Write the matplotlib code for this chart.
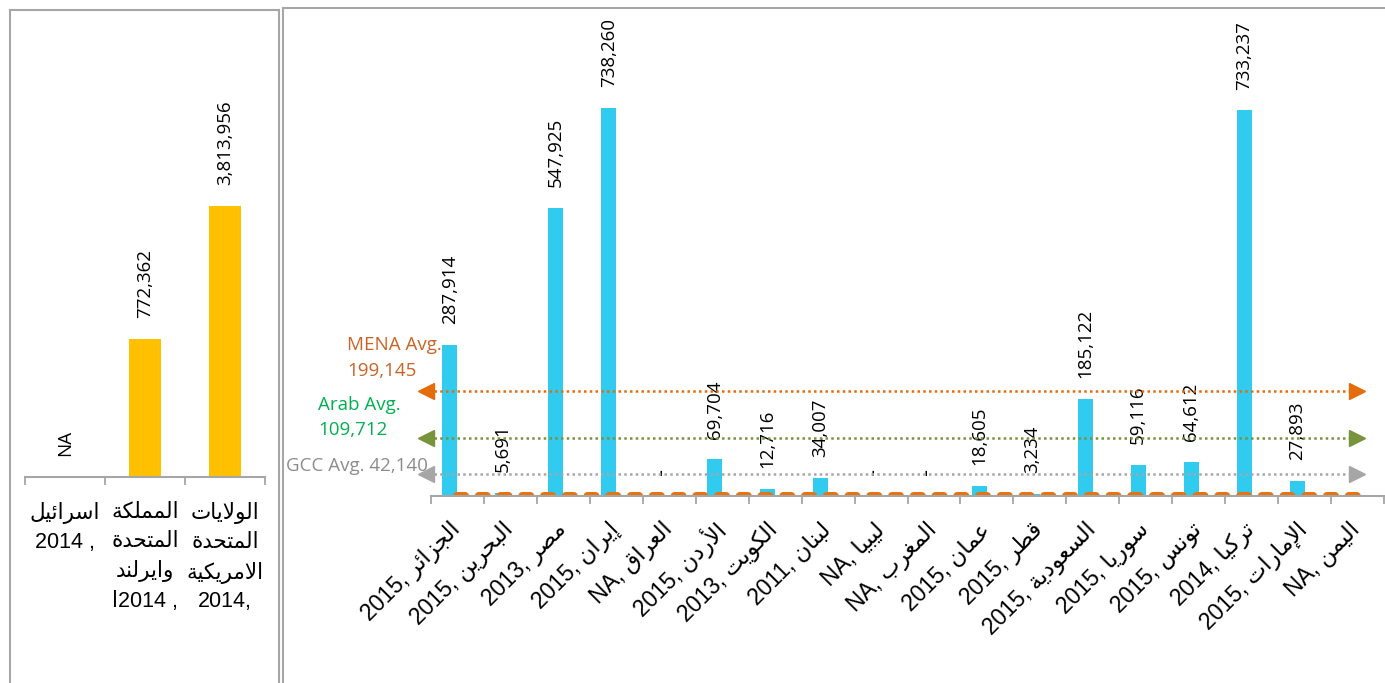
import matplotlib
matplotlib.use("Agg")
import matplotlib.pyplot as plt
from matplotlib.lines import Line2D

# ---------------- data ----------------
ref_names = ["اسرائيل", "المملكة المتحدة وايرلندا", "الولايات المتحدة الامريكية"]
ref_label_lines = [["اسرائيل"],
                   ["المملكة", "المتحدة", "وايرلند"],
                   ["الولايات", "المتحدة", "الامريكية"]]
ref_year_lines = ["2014 ,", "ا2014 ,", "2014,"]
ref_values = [None, 772362, 3813956]

mena_names = ["الجزائر", "البحرين", "مصر", "إيران", "العراق", "الأردن",
              "الكويت", "لبنان", "ليبيا", "المغرب", "عمان", "قطر",
              "السعودية", "سوريا", "تونس", "تركيا", "الإمارات", "اليمن"]
mena_years = ["2015", "2015", "2013", "2015", "NA", "2015",
              "2013", "2011", "NA", "NA", "2015", "2015",
              "2015", "2015", "2015", "2014", "2015", "NA"]
mena_values = [287914, 5691, 547925, 738260, None, 69704,
               12716, 34007, None, None, 18605, 3234,
               185122, 59116, 64612, 733237, 27893, None]
mena_second = [0, 0, 0, 0, 0, 0, 0, 0, 0, 0, 0, 0, 0, 0, 0, 0, 0, 0]

avg_titles = ["MENA Avg.", "Arab Avg.", "GCC Avg."]
avg_values = [199145, 109712, 42140]

# ---------------- Arabic shaping (presentation forms + RTL order) ----------------
ARABIC_FORMS = {
    'ء': ('\uFE80', None, None, None),
    'آ': ('\uFE81', '\uFE82', None, None),
    'أ': ('\uFE83', '\uFE84', None, None),
    'ؤ': ('\uFE85', '\uFE86', None, None),
    'إ': ('\uFE87', '\uFE88', None, None),
    'ئ': ('\uFE89', '\uFE8A', '\uFE8B', '\uFE8C'),
    'ا': ('\uFE8D', '\uFE8E', None, None),
    'ب': ('\uFE8F', '\uFE90', '\uFE91', '\uFE92'),
    'ة': ('\uFE93', '\uFE94', None, None),
    'ت': ('\uFE95', '\uFE96', '\uFE97', '\uFE98'),
    'ث': ('\uFE99', '\uFE9A', '\uFE9B', '\uFE9C'),
    'ج': ('\uFE9D', '\uFE9E', '\uFE9F', '\uFEA0'),
    'ح': ('\uFEA1', '\uFEA2', '\uFEA3', '\uFEA4'),
    'خ': ('\uFEA5', '\uFEA6', '\uFEA7', '\uFEA8'),
    'د': ('\uFEA9', '\uFEAA', None, None),
    'ذ': ('\uFEAB', '\uFEAC', None, None),
    'ر': ('\uFEAD', '\uFEAE', None, None),
    'ز': ('\uFEAF', '\uFEB0', None, None),
    'س': ('\uFEB1', '\uFEB2', '\uFEB3', '\uFEB4'),
    'ش': ('\uFEB5', '\uFEB6', '\uFEB7', '\uFEB8'),
    'ص': ('\uFEB9', '\uFEBA', '\uFEBB', '\uFEBC'),
    'ض': ('\uFEBD', '\uFEBE', '\uFEBF', '\uFEC0'),
    'ط': ('\uFEC1', '\uFEC2', '\uFEC3', '\uFEC4'),
    'ظ': ('\uFEC5', '\uFEC6', '\uFEC7', '\uFEC8'),
    'ع': ('\uFEC9', '\uFECA', '\uFECB', '\uFECC'),
    'غ': ('\uFECD', '\uFECE', '\uFECF', '\uFED0'),
    'ف': ('\uFED1', '\uFED2', '\uFED3', '\uFED4'),
    'ق': ('\uFED5', '\uFED6', '\uFED7', '\uFED8'),
    'ك': ('\uFED9', '\uFEDA', '\uFEDB', '\uFEDC'),
    'ل': ('\uFEDD', '\uFEDE', '\uFEDF', '\uFEE0'),
    'م': ('\uFEE1', '\uFEE2', '\uFEE3', '\uFEE4'),
    'ن': ('\uFEE5', '\uFEE6', '\uFEE7', '\uFEE8'),
    'ه': ('\uFEE9', '\uFEEA', '\uFEEB', '\uFEEC'),
    'و': ('\uFEED', '\uFEEE', None, None),
    'ى': ('\uFEEF', '\uFEF0', None, None),
    'ي': ('\uFEF1', '\uFEF2', '\uFEF3', '\uFEF4'),
}
LAM_ALEF = {'آ': ('\uFEF5', '\uFEF6'), 'أ': ('\uFEF7', '\uFEF8'),
            'إ': ('\uFEF9', '\uFEFA'), 'ا': ('\uFEFB', '\uFEFC')}


def rtl(text):
    """Shape Arabic letters into joined forms and return them in visual order."""
    items = []
    i = 0
    while i < len(text):
        c = text[i]
        if c == 'ل' and i + 1 < len(text) and text[i + 1] in LAM_ALEF:
            iso, fin = LAM_ALEF[text[i + 1]]
            items.append((iso, fin, None, None))
            i += 2
            continue
        items.append(ARABIC_FORMS.get(c, c))
        i += 1
    out = []
    for k, it in enumerate(items):
        if isinstance(it, str):
            out.append(it)
            continue
        prev = items[k - 1] if k > 0 else None
        nxt = items[k + 1] if k + 1 < len(items) else None
        jp = isinstance(prev, tuple) and prev[2] is not None and it[1] is not None
        jn = isinstance(nxt, tuple) and it[2] is not None and nxt[1] is not None
        if jp and jn:
            g = it[3]
        elif jp:
            g = it[1]
        elif jn:
            g = it[2]
        else:
            g = it[0]
        out.append(g)
    return ''.join(reversed(out))


# ---------------- styling ----------------
plt.rcParams['font.family'] = ['Liberation Sans', 'DejaVu Sans']
W, H = 1385, 683
BLUE = '#31CBF0'
GOLD = '#FFC000'
ORANGE = '#E8730E'
FRAME = '#A6A6A6'
AXIS_GREY = '#A6A6A6'
LABEL_FONT = 'Open Sans'
VALUE_SIZE = 13.5
TICK_SIZE = 16.5
LEFT_TICK_SIZE = 15.5
avg_line_colors = ['#E46C0A', '#77933C', '#A6A6A6']
avg_text_colors = ['#CD6322', '#00B050', '#8C8C8C']

fig = plt.figure(figsize=(W / 100, H / 100), dpi=100)


def fx(px):
    return px / W


def fy(py):
    return 1 - py / H


# panel frames
for xs, ys in [([10, 10], [H + 5, 10]), ([10, 279], [10, 10]), ([279, 279], [10, H + 5]),
               ([283, 283], [H + 5, 8]), ([283, W + 5], [8, 8])]:
    fig.add_artist(Line2D([fx(x) for x in xs], [fy(y) for y in ys],
                          color=FRAME, lw=1.5, transform=fig.transFigure))


def style_axis(ax, n):
    for side in ['left', 'right', 'top']:
        ax.spines[side].set_visible(False)
    ax.spines['bottom'].set_color(AXIS_GREY)
    ax.spines['bottom'].set_linewidth(1.5)
    ax.set_xlim(-0.5, n - 0.5)
    ax.set_xticks(range(n))
    ax.set_xticks([k - 0.5 for k in range(n + 1)], minor=True)
    ax.tick_params(axis='x', which='major', length=0)
    ax.tick_params(axis='x', which='minor', length=6, width=1.3, color=AXIS_GREY)
    ax.set_yticks([])
    ax.patch.set_visible(False)


def value_label(ax, x, y, text, family=LABEL_FONT, size=VALUE_SIZE):
    ax.annotate(text, (x, y), xytext=(0, 15), textcoords='offset points',
                rotation=90, ha='center', va='bottom', fontsize=size,
                family=family, color='black')


# ---------------- left panel: reference countries (log scale) ----------------
axl = fig.add_axes([fx(25), fy(477), fx(240), (477 - 30) / H])
style_axis(axl, len(ref_values))
axl.set_yscale('log')
log_floor, log_top = 147300, 3.15e7
axl.set_ylim(log_floor, log_top)
axl.set_yticks([], minor=True)
axl.set_yticks([])
for k, v in enumerate(ref_values):
    if v is None:
        value_label(axl, k, log_floor, "NA")
        continue
    axl.bar(k, v - log_floor, bottom=log_floor, width=0.4, color=GOLD, zorder=1)
    value_label(axl, k, v, f"{v:,}")

left_labels = ["\n".join([rtl(w) for w in lines] + [yl])
               for lines, yl in zip(ref_label_lines, ref_year_lines)]
axl.set_xticklabels(left_labels, fontsize=LEFT_TICK_SIZE, linespacing=1.5)
axl.tick_params(axis='x', which='major', pad=18)

# ---------------- right panel: MENA countries ----------------
axr = fig.add_axes([fx(431), fy(496), fx(953), (496 - 30) / H])
style_axis(axr, len(mena_values))
axr.set_ylim(0, 886000)
bw = 0.284
xs = list(range(len(mena_values)))
for k, v in enumerate(mena_values):
    xc = k - bw / 2
    if v is None:
        value_label(axr, xc, 0, "-", family='DejaVu Sans', size=14)
        continue
    axr.bar(xc, v, width=bw, color=BLUE, zorder=1)
    value_label(axr, xc, v, f"{v:,}")

axr.plot(xs, mena_second, color=ORANGE, lw=5.8, linestyle=(0, (1.0, 1.7)),
         dash_capstyle='round', zorder=2.4)

right_labels = [f"{y}, {rtl(n)}" for n, y in zip(mena_names, mena_years)]
axr.set_xticklabels(right_labels, fontsize=TICK_SIZE, rotation=45, ha='right',
                    va='center', rotation_mode='anchor')
axr.tick_params(axis='x', which='major', pad=22)

# average reference lines with arrowheads at both ends
yaxis_tr = axr.get_yaxis_transform()
x_line0, x_line1 = (434 - 431) / 953, (1350 - 431) / 953
x_head0, x_head1 = (426 - 431) / 953, (1357 - 431) / 953
for v, lc in zip(avg_values, avg_line_colors):
    axr.plot([x_line0, x_line1], [v, v], transform=yaxis_tr, color=lc, lw=1.8,
             linestyle=(0, (1.0, 1.3)), clip_on=False, zorder=3)
    axr.plot([x_head0], [v], marker='<', ms=11.5, color=lc, transform=yaxis_tr,
             clip_on=False, zorder=3)
    axr.plot([x_head1], [v], marker='>', ms=11.5, color=lc, transform=yaxis_tr,
             clip_on=False, zorder=3)

# average captions
tkw = dict(ha='left', va='center', fontsize=13.5, family=LABEL_FONT)
fig.text(fx(347), fy(345), avg_titles[0], color=avg_text_colors[0], **tkw)
fig.text(fx(347), fy(371), f"{avg_values[0]:,}", color=avg_text_colors[0], **tkw)
fig.text(fx(318), fy(405), avg_titles[1], color=avg_text_colors[1], **tkw)
fig.text(fx(318), fy(430), f"{avg_values[1]:,}", color=avg_text_colors[1], **tkw)
fig.text(fx(286), fy(466), f"{avg_titles[2]} {avg_values[2]:,}", color=avg_text_colors[2], **tkw)

fig.savefig("out.png", dpi=100)
